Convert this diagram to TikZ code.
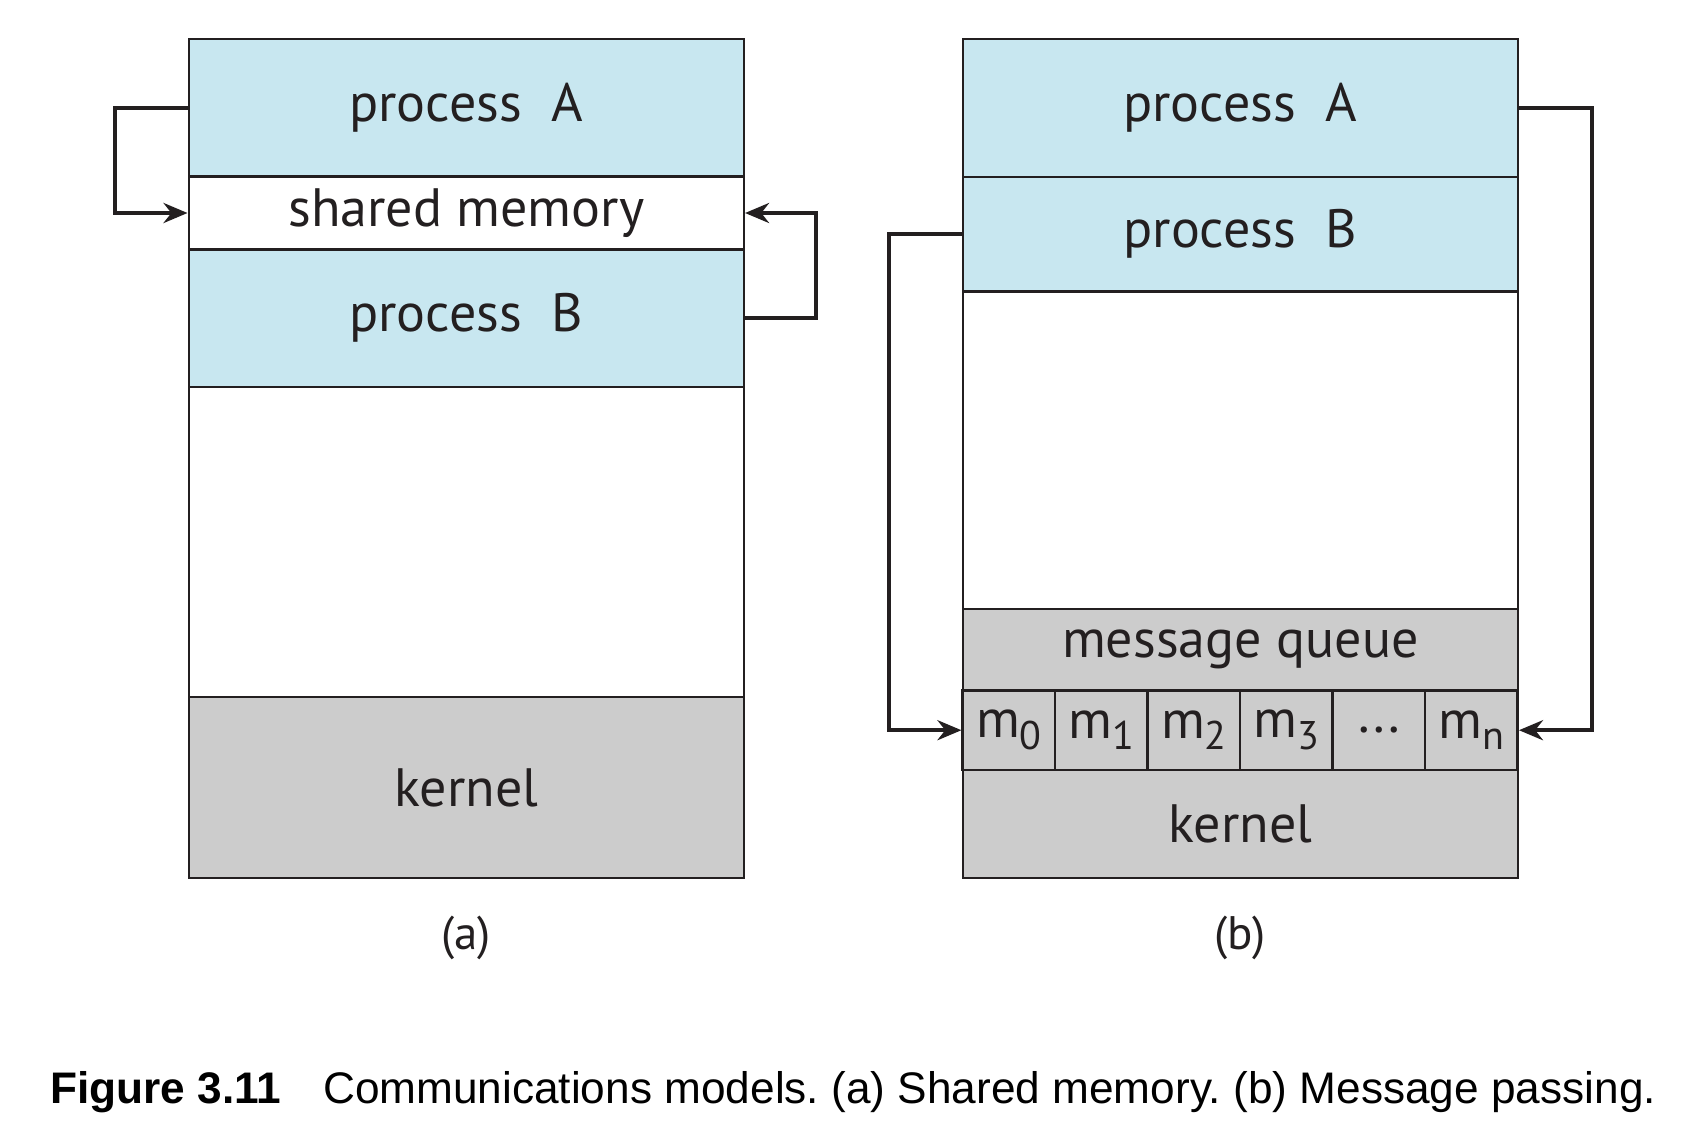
\documentclass[tikz,border=0pt]{standalone}
\usepackage{fontspec}
\setmainfont{PT Sans}
\newfontfamily\capfont{Liberation Sans}
\usetikzlibrary{arrows.meta, positioning}
\definecolor{procblue}{RGB}{200,231,240}
\definecolor{kgray}{RGB}{204,204,204}
\definecolor{edgeclr}{RGB}{35,31,32}
\newcommand{\msub}[1]{m\raisebox{-0.22em}{\fontsize{40}{40}\selectfont #1}}

\begin{document}
\begin{tikzpicture}[x=1pt, y=1pt, every node/.style={font=\fontsize{54}{62}\selectfont, text=edgeclr},
    band/.style={draw=edgeclr, line width=2.5pt, inner sep=0pt, minimum width=555pt},
    arr/.style={-{Stealth[length=24pt, width=20pt]}, line width=4pt, edgeclr}]
  \useasboundingbox (0,0) rectangle (1700,-1144);

  % (a) shared memory
  \node[band, fill=procblue, minimum height=137.7pt] (aprocA) at (466.3,-107.9) {process\hspace{0.55em}A};
  \node[band, fill=white, minimum height=72.7pt] (ashm) at (466.3,-213) {shared memory};
  \node[band, fill=procblue, minimum height=137.6pt] (aprocB) at (466.3,-318.2) {process\hspace{0.55em}B};
  \node[band, fill=white, minimum height=310pt] (afree) at (466.3,-542) {};
  \node[band, fill=kgray, minimum height=181pt] (akern) at (466.3,-787.5) {kernel};

  \draw[arr] (aprocA.west) -- ++(-72.7,0) |- (ashm.west);
  \draw[arr] (aprocB.east) -- ++(71,0) |- (ashm.east);

  % (b) message passing
  \node[band, fill=procblue, minimum height=137.7pt] (bprocA) at (1240.3,-107.9) {process\hspace{0.55em}A};
  \node[band, fill=procblue, minimum height=114.9pt] (bprocB) at (1240.3,-234.2) {process\hspace{0.55em}B};
  \node[band, fill=white, minimum height=317.4pt] (bfree) at (1240.3,-450.3) {};
  \node[band, fill=kgray, minimum height=81.6pt] (mqueue) at (1240.3,-649.8) {message queue};
  \foreach \i/\lab in {0/{\msub{0}}, 1/{\msub{1}}, 2/{\msub{2}},
                       3/{\msub{3}}, 4/{...}, 5/{\msub{n}}}
    \node[band, fill=kgray, minimum width=92.5pt, minimum height=79.2pt]
      (m\i) at ({962.7+92.5*(\i+0.5)},-730.2) {\lab};
  \node[band, fill=kgray, minimum height=108.2pt] (bkern) at (1240.3,-823.9) {kernel};

  \draw[arr] (bprocA.east) -- ++(72.7,0) |- (m5.east);
  \draw[arr] (bprocB.west) -- ++(-72.7,0) |- (m0.west);

  \node[font=\fontsize{47}{54}\selectfont] (alab) at (466.3,-938) {(a)};
  \node[font=\fontsize{47}{54}\selectfont] (blab) at (1240.3,-938) {(b)};

  \node[anchor=west, inner sep=0pt, font=\capfont\fontsize{44.2}{52}\selectfont\frenchspacing, text=black] (caption) at (50,-1091.8)
    {\textbf{Figure 3.11}\hspace{42pt}Communications models. (a) Shared memory. (b) Message passing.};
\end{tikzpicture}
\end{document}
